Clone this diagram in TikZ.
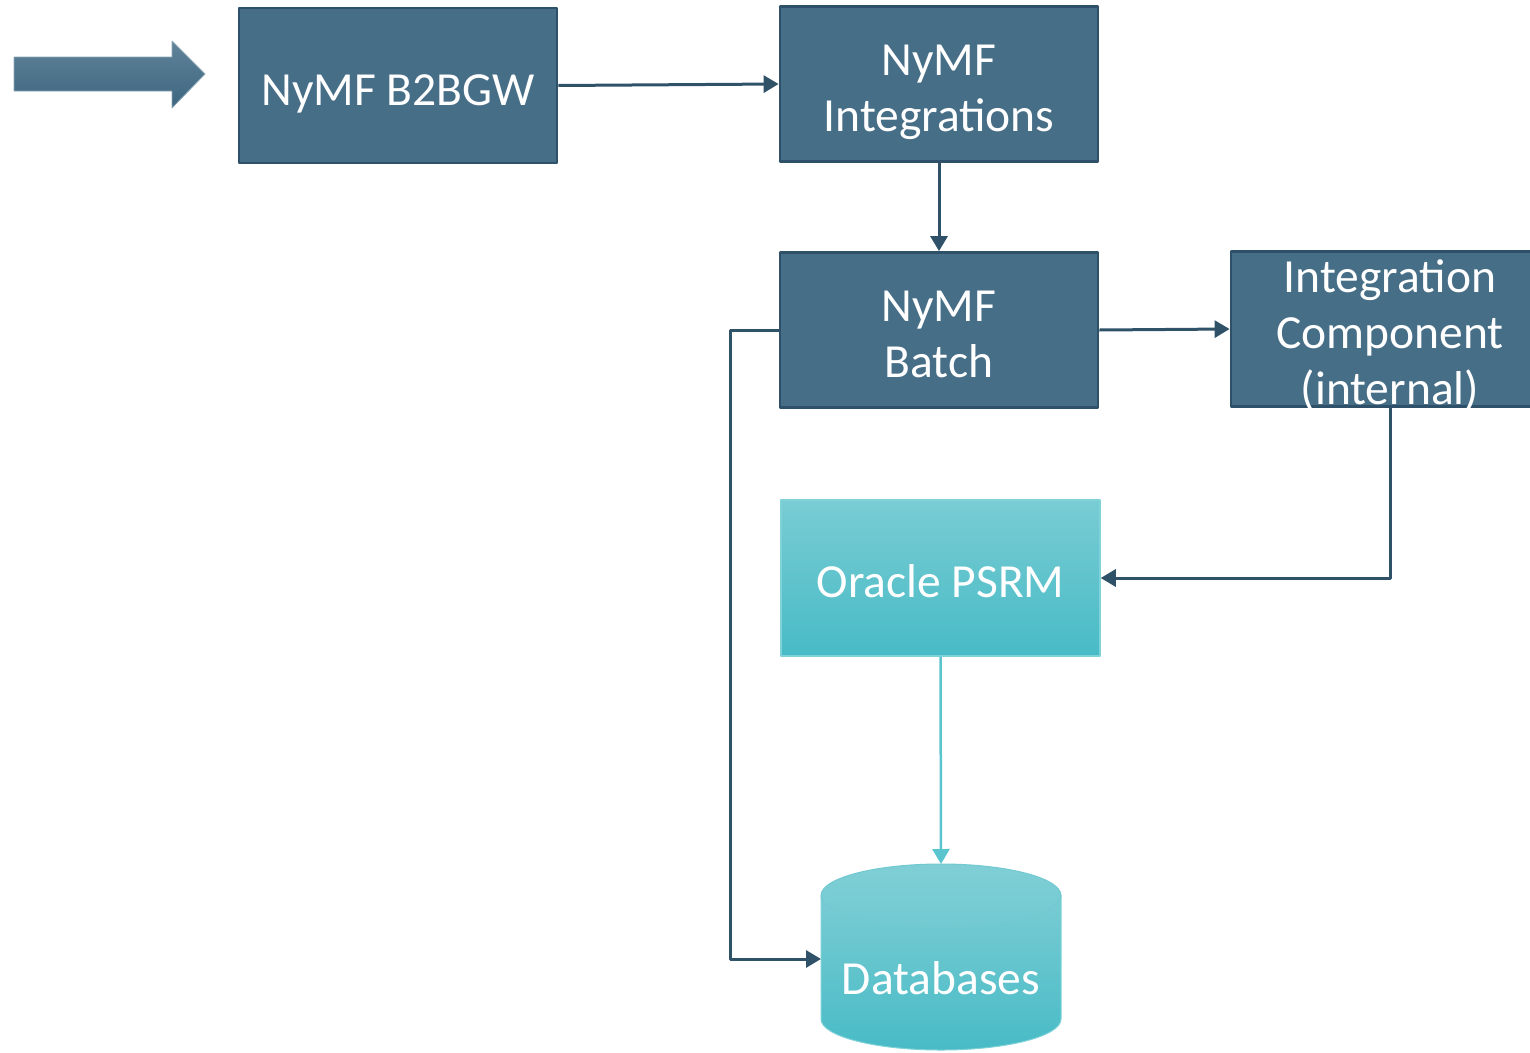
\documentclass[tikz,border=0pt]{standalone}
\usepackage{fontspec}
\setmainfont{Carlito}
\usetikzlibrary{arrows.meta}
\definecolor{boxfill}{HTML}{476E87}
\definecolor{boxline}{HTML}{2E5068}
\definecolor{wire}{HTML}{2F5269}
\definecolor{tealA}{HTML}{79CCD3}
\definecolor{tealB}{HTML}{48BBC6}
\definecolor{tealline}{HTML}{7ED2D8}
\definecolor{tealwire}{HTML}{5BC5CF}
\definecolor{shaftA}{HTML}{5F8399}
\definecolor{shaftB}{HTML}{3D667F}
\newcommand\lstrut{\rule[-8.5pt]{0pt}{56pt}}
\begin{document}
\begin{tikzpicture}[x=1pt,y=-1pt,line join=round,>={Triangle[length=15pt,width=17pt]},
	every node/.style={text=white,font=\fontsize{47.5}{56}\selectfont,inner sep=0pt,align=center},
	box/.style={draw=boxline,line width=2.8pt,fill=boxfill,minimum width=318pt,minimum height=155pt},
	tealbox/.style={draw=tealline,line width=1.5pt,top color=tealA,bottom color=tealB,minimum width=319pt,minimum height=156pt},
	wireA/.style={draw=wire,line width=3pt,->},
	wireB/.style={draw=tealwire,line width=2.5pt,->}]
	\useasboundingbox (0,0) rectangle (1530,1052);
	% incoming arrow
	\path[top color=shaftA,bottom color=shaftB,draw=shaftA!70!white,line width=.8pt]
		(14,57) -- (172,57) -- (172,41) -- (205,74) -- (172,108) -- (172,91) -- (14,91) -- cycle;
	\node[box] (gw) at (398,85.5) {\lstrut NyMF B2BGW};
	\node[box] (intg) at (939,84) {\lstrut NyMF\\\lstrut Integrations};
	\node[box] (batch) at (939,330) {\lstrut NyMF\\\lstrut Batch};
	\node[box,inner ysep=-6.5pt] (comp) at (1390,329) {\lstrut Integration\\\lstrut Component\\\lstrut (internal)};
	\node[tealbox] (psrm) at (940.5,578) {\lstrut Oracle PSRM};
	% database cylinder
	\path
	(941,864) coordinate (dbtop)
	(821,959) coordinate (dbleft)
	;
	\path[draw=tealline,line width=1pt,top color=tealA,bottom color=tealB]
		(821,895.5) -- (821,1019) .. controls (821,1036.1) and (874.7,1050) .. (941,1050)
		.. controls (1007.3,1050) and (1061,1036.1) .. (1061,1019) -- (1061,895.5) -- cycle;
	\path[draw=tealA!85!tealB,line width=1pt,top color=tealA!95!white,bottom color=tealA!85!tealB]
		(941,895.5) ellipse [x radius=120, y radius=31.5];
	\node (db) at (941,974.5) {\lstrut Databases};
	% connectors
	\draw[wireA] (gw.east) -- (intg.west);
	\draw[wireA] (intg.south) -- (batch.north);
	\draw[wireA] (batch.east) -- (comp.west);
	\draw[wireA] (comp.south) |- (psrm.east);
	\draw[wireA] (batch.west) -- ++(-48,0) |- (dbleft);
	\draw[wireB] (psrm.south) -- (dbtop);
\end{tikzpicture}
\end{document}
